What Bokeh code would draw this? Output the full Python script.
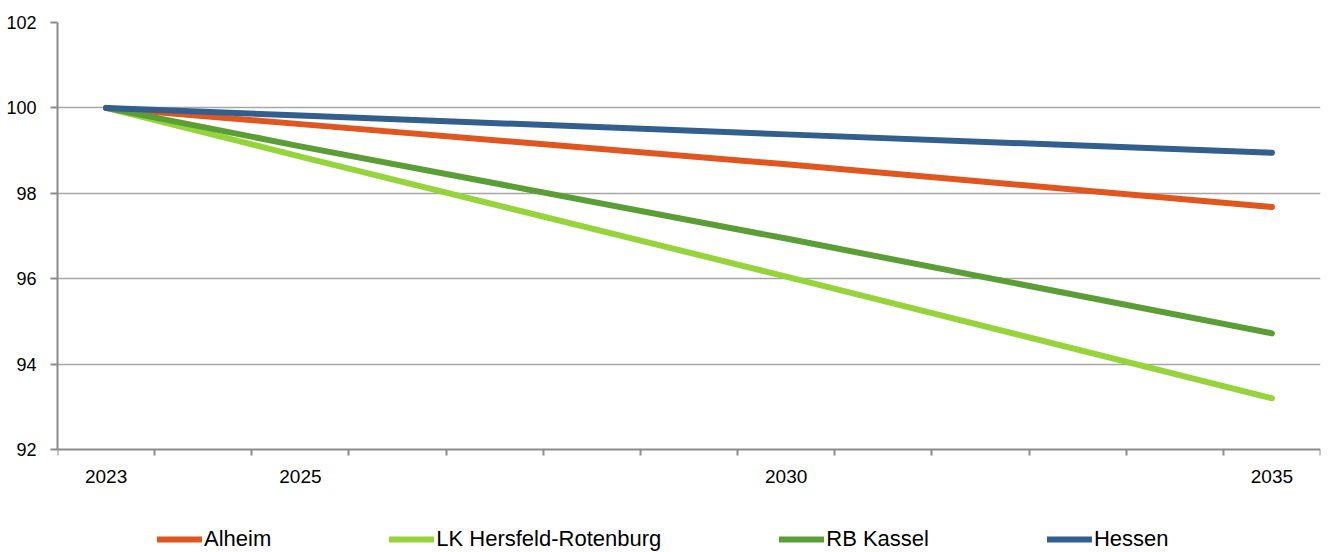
from bokeh.plotting import figure
from bokeh.models import Range1d, FixedTicker, Legend, LegendItem
from bokeh.embed import file_html
from bokeh.resources import INLINE

years = [2023, 2025, 2030, 2035]
alheim = [100.0, 99.62, 98.68, 97.68]
lk_hersfeld = [100.0, 98.86, 96.05, 93.2]
rb_kassel = [100.0, 99.10, 96.94, 94.72]
hessen = [100.0, 99.82, 99.38, 98.95]

series_names = ["Alheim", "LK Hersfeld-Rotenburg", "RB Kassel", "Hessen"]
series_values = [alheim, lk_hersfeld, rb_kassel, hessen]
colors = ["#E0561F", "#96D43C", "#5B9E35", "#335F8F"]

y_ticks = [92, 94, 96, 98, 100, 102]
y_min, y_max = 92, 102
x_labels = [2023, 2025, 2030, 2035]
x_bounds = [y + 0.5 for y in range(2022, 2036)]

FONT = "'Liberation Sans', Arial, sans-serif"

# frame spans from the top of the chart area down to the bottom of the figure;
# the x axis is pinned at y=92 so the legend can sit below it inside the frame
FRAME_TOP_PX, AXIS_PX, FRAME_BOTTOM_PX = 22, 449, 552
units_per_px = (y_max - y_min) / (AXIS_PX - FRAME_TOP_PX)
y_start = y_min - (FRAME_BOTTOM_PX - AXIS_PX) * units_per_px

p = figure(width=1323, height=552, output_backend="svg", toolbar_location=None,
           x_range=Range1d(2022.5, 2035.5), y_range=Range1d(y_start, y_max),
           min_border_left=57, min_border_right=3, min_border_top=22, min_border_bottom=0)
p.outline_line_color = None
p.background_fill_color = "white"
p.border_fill_color = "white"

renderers = []
for name, vals, c in zip(series_names, series_values, colors):
    r = p.line(years, vals, line_color=c, line_width=6, line_cap="round", line_join="round")
    renderers.append((name, r))

# x axis
p.xaxis.fixed_location = y_min
p.xaxis.ticker = FixedTicker(ticks=x_labels, minor_ticks=x_bounds)
p.xaxis.major_tick_out = 0
p.xaxis.major_tick_in = 0
p.xaxis.minor_tick_out = 6
p.xaxis.minor_tick_in = 0
p.xaxis.minor_tick_line_color = "#8c8c8c"
p.xaxis.minor_tick_line_width = 2
p.xaxis.axis_line_color = "#8c8c8c"
p.xaxis.axis_line_width = 2
p.xaxis.major_label_text_font = FONT
p.xaxis.major_label_text_font_size = "19px"
p.xaxis.major_label_text_color = "black"
p.xaxis.major_label_standoff = 14

# y axis
p.yaxis.bounds = (y_min, y_max)
p.yaxis.ticker = FixedTicker(ticks=y_ticks)
p.yaxis.major_tick_out = 7
p.yaxis.major_tick_in = 0
p.yaxis.minor_tick_line_color = None
p.yaxis.major_tick_line_color = "#8c8c8c"
p.yaxis.major_tick_line_width = 2
p.yaxis.axis_line_color = "#8c8c8c"
p.yaxis.axis_line_width = 2
p.yaxis.major_label_text_font = FONT
p.yaxis.major_label_text_font_size = "18px"
p.yaxis.major_label_text_color = "black"
p.yaxis.major_label_standoff = 14

p.xgrid.visible = False
p.ygrid.ticker = FixedTicker(ticks=y_ticks[1:])
p.ygrid.grid_line_color = "#a6a6a6"
p.ygrid.grid_line_width = 1.5

legend = Legend(items=[LegendItem(label=n, renderers=[r]) for n, r in renderers],
                orientation="horizontal", location=(100, 0),
                glyph_width=45, glyph_height=24, label_standoff=2, spacing=118,
                padding=0, margin=0, border_line_color=None, background_fill_color=None,
                background_fill_alpha=0, label_text_font=FONT, label_text_font_size="22px",
                label_text_color="black", label_height=24)
p.add_layout(legend, "center")

open("out.html", "w").write(file_html(p, INLINE))
